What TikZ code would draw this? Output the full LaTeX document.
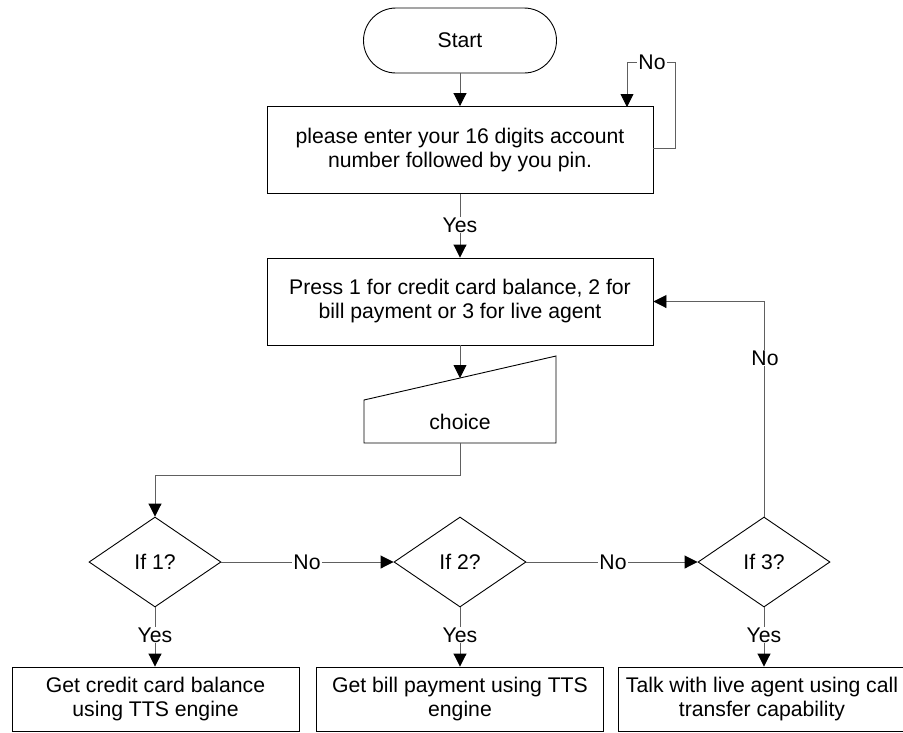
\documentclass[tikz,border=0pt]{standalone}
\usepackage{fontspec}
\setmainfont{Liberation Sans}
\usetikzlibrary{shapes.geometric,arrows.meta}
\definecolor{linegray}{RGB}{96,96,96}
\tikzset{
  base/.style={draw=black, line width=0.9pt, align=center, inner sep=0pt,
    font=\fontsize{21.2}{24}\selectfont},
  terminal/.style={base, minimum width=193pt, minimum height=65pt, rounded corners=32.5pt},
  procbox/.style={base, minimum width=386pt, minimum height=87pt},
  outbox/.style={base, minimum width=287pt, minimum height=64pt},
  decision/.style={base, diamond, minimum width=132pt, minimum height=90pt, aspect=1.4667},
  conn/.style={draw=linegray, line width=0.9pt, -{Triangle[length=13pt,width=13pt,fill=black,color=black]}},
  plain/.style={draw=linegray, line width=0.9pt},
  lbl/.style={fill=white, inner sep=1pt, font=\fontsize{21.2}{24}\selectfont}
}
\begin{document}
\begin{tikzpicture}[x=1pt,y=-1pt]
\useasboundingbox (0,0) rectangle (903,732);
\fill[white] (0,0) rectangle (903,732);

% nodes
\node[terminal] (start) at (460,40.5) {Start};
\node[procbox] (acct) at (460,150) {please enter your 16 digits account\\number followed by you pin.};
\node[procbox] (menu) at (460,301.5) {Press 1 for credit card balance, 2 for\\bill payment or 3 for live agent};

% manual input shape for the choice
\draw[line width=0.9pt] (364,400) -- (556,356) -- (556,443) -- (364,443) -- cycle;
\node[font=\fontsize{21.2}{24}\selectfont] (choice) at (460,422) {choice};
\coordinate (chtop) at (460,378);
\coordinate (chbot) at (460,443);

\node[decision] (d1) at (155,562) {If 1?};
\node[decision] (d2) at (460,562) {If 2?};
\node[decision] (d3) at (764,562) {If 3?};

\node[outbox] (o1) at (155.5,699) {Get credit card balance\\using TTS engine};
\node[outbox] (o2) at (460,699) {Get bill payment using TTS\\engine};
\node[outbox] (o3) at (762,699) {Talk with live agent using call\\transfer capability};

% connectors
\draw[conn] (start) -- (acct.north -| start);
\coordinate (loopin) at (627,107);
\draw[plain] (acct.east |- 0,148) -- (675,148) -- (675,62) -- (627,62);
\draw[conn] (627,62) -- (loopin);
\node[lbl] (lno1) at (652,62) {No};

\draw[conn] (acct.south -| menu) -- (menu.north);
\node[lbl] (lyes1) at (460,225) {Yes};

\draw[conn] (menu.south) -- (chtop);
\draw[conn] (chbot) -- (460,475) -- (155,475) -- (d1.north);

\draw[conn] (d1.east) -- (d2.west);
\node[lbl] (lno2) at (307,562) {No};
\draw[conn] (d2.east) -- (d3.west);
\node[lbl] (lno3) at (613,562) {No};

\draw[conn] (d3.north) -- (764,301.5) -- (menu.east);
\node[lbl] (lno4) at (765,358) {No};

\draw[conn] (d1.south) -- (o1.north -| d1);
\node[lbl] (ly1) at (155,635) {Yes};
\draw[conn] (d2.south) -- (o2.north);
\node[lbl] (ly2) at (460,635) {Yes};
\draw[conn] (d3.south) -- (o3.north -| d3);
\node[lbl] (ly3) at (764,635) {Yes};
\end{tikzpicture}
\end{document}
